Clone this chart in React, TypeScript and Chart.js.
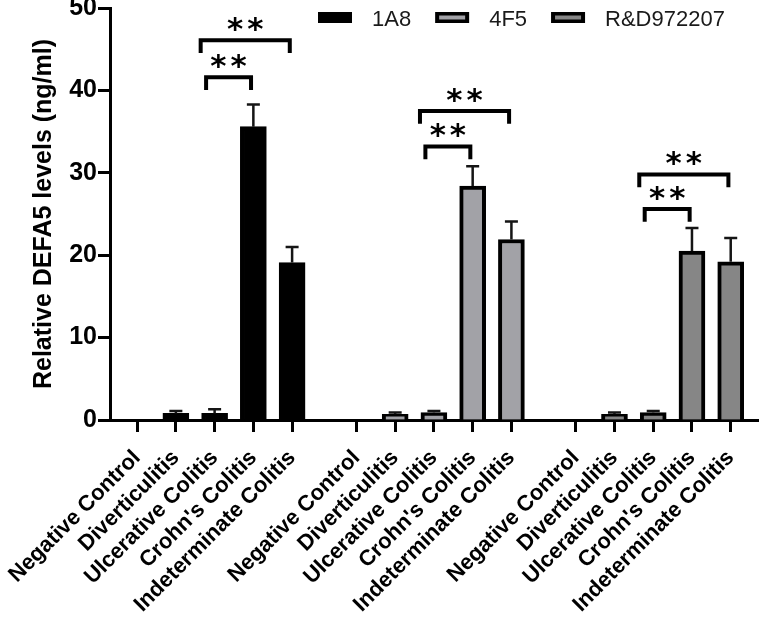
import React, { useEffect, useRef } from 'react';
import { Chart, registerables } from 'chart.js';

Chart.register(...registerables);

const categories = ['Negative Control', 'Diverticulitis', 'Ulcerative Colitis', "Crohn's Colitis", 'Indeterminate Colitis'];
const seriesNames = ['1A8', '4F5', 'R&D972207'];
const values1A8 = [0, 0.8, 0.8, 35.6, 19.1];
const errors1A8 = [0, 0.3, 0.5, 2.7, 1.9];
const values4F5 = [0, 0.7, 0.9, 28.4, 21.9];
const errors4F5 = [0, 0.2, 0.2, 2.4, 2.2];
const valuesRD = [0, 0.7, 0.9, 20.5, 19.2];
const errorsRD = [0, 0.2, 0.2, 2.8, 2.9];
const fills = ['#000000', '#a2a2a7', '#868686'];
const yTicks = [0, 10, 20, 30, 40, 50];

// significance brackets (group, from category, to category, bracket height)
const bracketGroup = [0, 0, 1, 1, 2, 2];
const bracketFrom = [2, 2, 2, 2, 2, 2];
const bracketTo = [3, 4, 3, 4, 3, 4];
const bracketY = [41.6, 46.1, 33.2, 37.5, 25.6, 29.8];
const bracketText = ['**', '**', '**', '**', '**', '**'];

const GROUP_STEP = 5.66;
const allValues = [values1A8, values4F5, valuesRD];
const allErrors = [errors1A8, errors4F5, errorsRD];
const posOf = (g: number, i: number) => g * GROUP_STEP + i;
const tickPositions: number[] = [];
const tickLabels: string[] = [];
for (let g = 0; g < 3; g++) {
  categories.forEach((c, i) => {
    tickPositions.push(posOf(g, i));
    tickLabels.push(c);
  });
}

const errorBarPlugin = {
  id: 'errorBars',
  afterDatasetsDraw(chart: any) {
    const ctx = chart.ctx;
    const ys = chart.scales.y;
    chart.data.datasets.forEach((ds: any, di: number) => {
      const meta = chart.getDatasetMeta(di);
      meta.data.forEach((bar: any, i: number) => {
        const v = allValues[di][i];
        const e = allErrors[di][i];
        if (!e) return;
        const top = ys.getPixelForValue(v + e);
        const base = ys.getPixelForValue(v);
        ctx.save();
        ctx.strokeStyle = '#151515';
        ctx.lineWidth = 2.5;
        ctx.beginPath();
        ctx.moveTo(bar.x, base);
        ctx.lineTo(bar.x, top);
        ctx.moveTo(bar.x - 6.5, top);
        ctx.lineTo(bar.x + 6.5, top);
        ctx.stroke();
        ctx.restore();
      });
    });
  },
};

const bracketPlugin = {
  id: 'brackets',
  afterDatasetsDraw(chart: any) {
    const ctx = chart.ctx;
    const xs = chart.scales.x;
    const ys = chart.scales.y;
    ctx.save();
    ctx.strokeStyle = '#000';
    ctx.lineWidth = 4;
    ctx.lineCap = 'butt';
    bracketY.forEach((yv, k) => {
      const g = bracketGroup[k];
      const wide = bracketTo[k] - bracketFrom[k] > 1;
      const x1 = xs.getPixelForValue(posOf(g, bracketFrom[k]) - (wide ? 0.36 : 0.22));
      const x2 = xs.getPixelForValue(posOf(g, bracketTo[k]) - 0.06);
      const y = ys.getPixelForValue(yv);
      const yb = ys.getPixelForValue(yv - 1.55);
      ctx.beginPath();
      ctx.moveTo(x1, yb);
      ctx.lineTo(x1, y);
      ctx.lineTo(x2, y);
      ctx.lineTo(x2, yb);
      ctx.stroke();
      ctx.fillStyle = '#000';
      ctx.font = 'bold 31px "DejaVu Sans"';
      ctx.textAlign = 'left';
      ctx.textBaseline = 'alphabetic';
      try { (ctx as any).letterSpacing = '4px'; } catch (e) {}
      const w = ctx.measureText(bracketText[k]).width - 4;
      const cx = (x1 + x2) / 2;
      ctx.fillText(bracketText[k], cx - w / 2, y - 1);
      try { (ctx as any).letterSpacing = '0px'; } catch (e) {}
    });
    ctx.restore();
  },
};

const legendPlugin = {
  id: 'customLegend',
  afterDraw(chart: any) {
    const ctx = chart.ctx;
    ctx.save();
    ctx.font = '22px "Liberation Sans", Arial, sans-serif';
    let x = chart.chartArea.left + 208;
    chart.data.datasets.forEach((ds: any, i: number) => {
      ctx.fillStyle = '#000';
      ctx.fillRect(x, 12, 34, 11);
      if (i > 0) {
        ctx.fillStyle = fills[i];
        ctx.fillRect(x + 4, 15.5, 26, 4);
      }
      x += 34 + 20;
      ctx.fillStyle = '#1a1a1a';
      ctx.textAlign = 'left';
      ctx.textBaseline = 'middle';
      ctx.fillText(ds.label, x, 19.5);
      x += ctx.measureText(ds.label).width + 24;
    });
    ctx.restore();
  },
};

export default function App() {
  const ref = useRef<HTMLCanvasElement | null>(null);
  useEffect(() => {
    if (!ref.current) return;
    const datasets = seriesNames.map((name, g) => ({
      label: name,
      data: allValues[g].map((v, i) => ({ x: posOf(g, i), y: v })),
      backgroundColor: fills[g],
      borderColor: '#000',
      borderWidth: 4,
      borderSkipped: 'start' as const,
      barThickness: 26,
      grouped: false,
    }));
    const chart = new Chart(ref.current, {
      type: 'bar',
      data: { datasets },
      plugins: [errorBarPlugin, bracketPlugin, legendPlugin],
      options: {
        animation: false,
        responsive: false,
        devicePixelRatio: 1,
        layout: { padding: { top: 8, left: 0, right: 0, bottom: 0 } },
        plugins: { legend: { display: false }, tooltip: { enabled: false } },
        scales: {
          x: {
            type: 'linear',
            min: -0.7,
            max: 16.05,
            offset: false,
            grid: { display: true, drawOnChartArea: false, drawTicks: true, tickLength: 12, tickWidth: 3, tickColor: '#000', offset: false },
            border: { display: true, width: 3, color: '#000' },
            afterBuildTicks: (axis: any) => {
              axis.ticks = tickPositions.map((v) => ({ value: v }));
            },
            afterFit: (axis: any) => {
              axis.height = 197;
              axis.paddingLeft = 0;
              axis.paddingRight = 0;
            },
            ticks: {
              autoSkip: false,
              minRotation: 45,
              maxRotation: 45,
              padding: 13,
              color: '#000',
              font: { family: '"Liberation Sans", Arial, sans-serif', size: 22, weight: 'bold' },
              callback: (_v: any, idx: number) => tickLabels[idx],
            },
          },
          y: {
            min: 0,
            max: 50,
            afterBuildTicks: (axis: any) => {
              axis.ticks = yTicks.map((v) => ({ value: v }));
            },
            afterFit: (axis: any) => {
              axis.width = 110;
              axis.paddingTop = 0;
              axis.paddingBottom = 0;
            },
            grid: { display: true, drawOnChartArea: false, drawTicks: true, tickLength: 12, tickWidth: 3, tickColor: '#000' },
            border: { display: true, width: 3, color: '#000' },
            ticks: {
              padding: 1,
              color: '#000',
              font: { family: '"Liberation Sans", Arial, sans-serif', size: 25, weight: 'bold' },
            },
            title: {
              display: true,
              text: 'Relative DEFA5 levels (ng/ml)',
              color: '#000',
              padding: { top: 29, bottom: 0 },
              font: { family: '"Liberation Sans", Arial, sans-serif', size: 25, weight: 'bold' },
            },
          },
        },
      },
    });
    return () => chart.destroy();
  }, []);
  return (
    <div style={{ position: 'fixed', left: 0, top: 0, width: 759, height: 617, background: '#fff' }}>
      <canvas ref={ref} width={759} height={617} style={{ display: 'block', width: 759, height: 617 }} />
    </div>
  );
}
